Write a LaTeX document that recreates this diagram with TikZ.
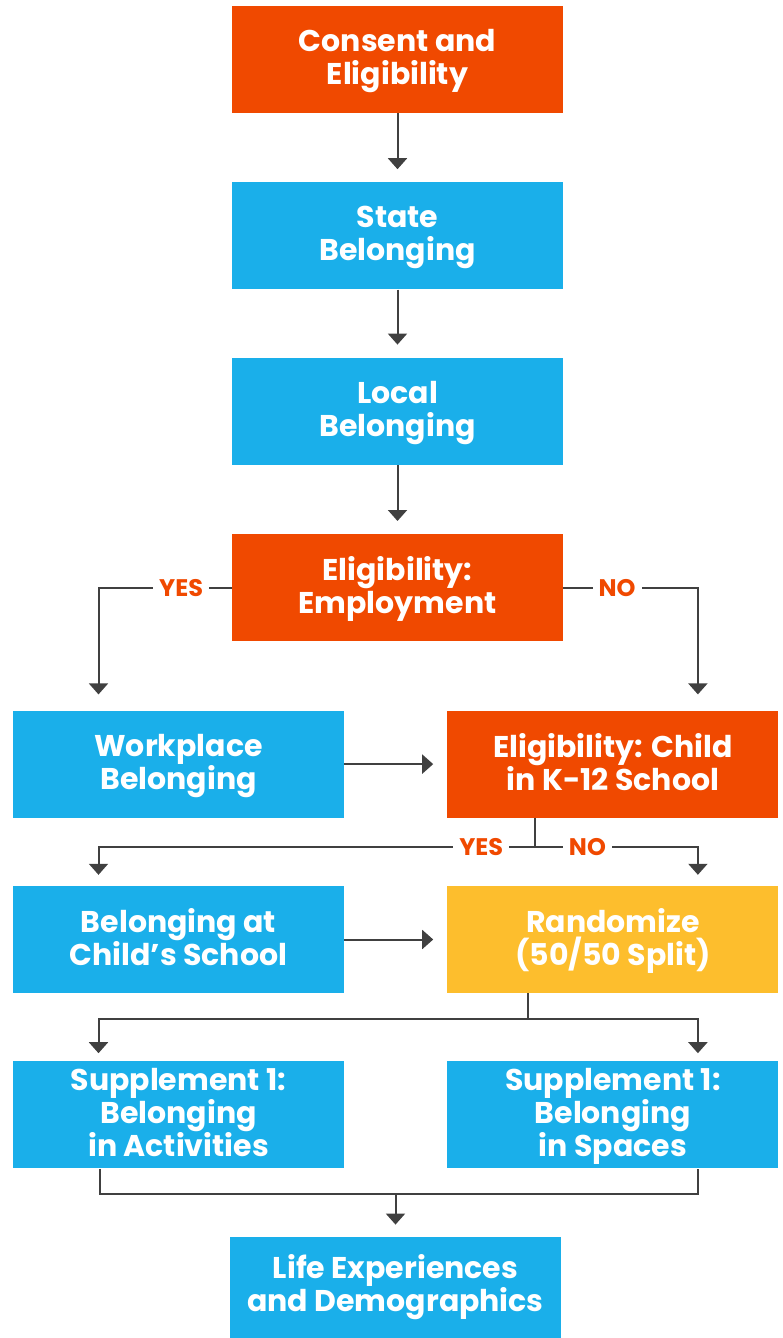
\documentclass[tikz,border=0pt]{standalone}
\usepackage{fontspec}
\setmainfont{Poppins}
\usetikzlibrary{arrows.meta, positioning, calc}
\definecolor{boxred}{RGB}{240,73,0}
\definecolor{boxblue}{RGB}{26,175,234}
\definecolor{boxyellow}{RGB}{253,190,45}
\definecolor{linegray}{RGB}{64,64,64}

\begin{document}
\begin{tikzpicture}[
  box/.style={minimum width=331pt, minimum height=107pt, inner sep=0pt, align=center, text depth=5pt, text=white, font=\fontsize{30}{33}\selectfont\bfseries},
  redbox/.style={box, fill=boxred},
  bluebox/.style={box, fill=boxblue},
  yellowbox/.style={box, fill=boxyellow},
  link/.style={draw=linegray, line width=2pt},
  arrow/.style={link, -{Triangle[width=19pt,length=11pt]}, shorten >=13pt},
  answer/.style={fill=white, text=boxred, inner xsep=6pt, inner ysep=2pt, font=\fontsize{24}{24}\selectfont\bfseries}
]
\useasboundingbox (0,0) rectangle (783pt,-1338pt);
\node[redbox] (consent) at (397.5pt,-59.5pt) {Consent and\\Eligibility};
\node[bluebox, below=69pt of consent] (state) {State\\Belonging};
\node[bluebox, below=68pt of state] (local) {Local\\Belonging};
\node[redbox, below=69pt of local] (employ) {Eligibility:\\Employment};
\node[bluebox, below=69pt of employ, xshift=-219pt] (workplace) {Workplace\\Belonging};
\node[redbox, right=103pt of workplace] (childk12) {Eligibility: Child\\in K-12 School};
\node[bluebox, below=68pt of workplace] (school) {Belonging at\\Child’s School};
\node[yellowbox, right=103pt of school] (randomize) {Randomize\\(50/50 Split)};
\node[bluebox, below=68pt of school] (activities) {Supplement 1:\\Belonging\\in Activities};
\node[bluebox, right=103pt of activities] (spaces) {Supplement 1:\\Belonging\\in Spaces};
\node[bluebox, below=68pt of activities, xshift=217pt, text depth=14pt] (life) {Life Experiences\\and Demographics};

\draw[arrow] (consent) -- (state);
\draw[arrow] (state) -- (local);
\draw[arrow] (local) -- (employ);
\draw[arrow, shorten >=16pt] (employ.west) -| node[answer, pos=0.19] (yes1) {YES} ([xshift=-80pt]workplace.north);
\draw[arrow, shorten >=16pt] (employ.east) -| node[answer, pos=0.2] (no1) {NO} ([xshift=85pt]childk12.north);
\draw[arrow, shorten >=14pt] (workplace) -- (childk12);

\coordinate (splitk12) at ([xshift=-77.5pt, yshift=-29pt]childk12.south);
\draw[link] (childk12.south -| splitk12) -- (splitk12);
\draw[arrow, shorten >=11pt] (splitk12) -| node[answer, pos=0.062] (yes2) {YES} ([xshift=-80pt]school.north);
\draw[arrow, shorten >=11pt] (splitk12) -| node[answer, pos=0.16] (no2) {NO} ([xshift=85pt]randomize.north);
\draw[arrow, shorten >=14pt] (school) -- (randomize);

\coordinate (splitrand) at ([xshift=-85pt, yshift=-26pt]randomize.south);
\draw[link] (randomize.south -| splitrand) -- (splitrand);
\draw[arrow, shorten >=8pt] (splitrand) -| ([xshift=-80pt]activities.north);
\draw[arrow, shorten >=8pt] (splitrand) -| ([xshift=85pt]spaces.north);

\coordinate (merge) at ([yshift=-25pt]activities.south -| life.north);
\draw[link] ([xshift=-78.5pt]activities.south) |- (merge) -| ([xshift=85pt]spaces.south);
\draw[arrow, shorten >=12pt] (merge) -- (life);
\end{tikzpicture}
\end{document}
